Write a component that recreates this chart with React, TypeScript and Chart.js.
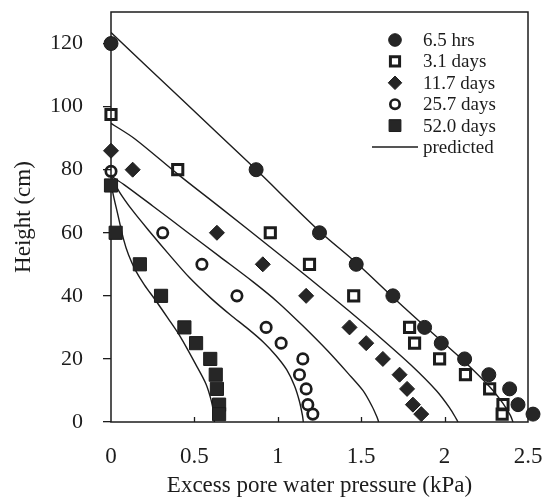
import { useEffect, useRef } from 'react';
import { Chart, registerables } from 'chart.js';
import { drawPoint } from 'chart.js/helpers';

Chart.register(...registerables);

// ---------- data ----------
const seriesLabels = ['6.5 hrs', '3.1 days', '11.7 days', '25.7 days', '52.0 days'];
const predictedLabel = 'predicted';
const xTickValues = [0, 0.5, 1, 1.5, 2, 2.5];
const yTickValues = [0, 20, 40, 60, 80, 100, 120];

// measured: [excess pore water pressure (kPa), height (cm)]
const obs6_5hrs: [number, number][] = [
  [0, 120], [0.87, 80], [1.25, 60], [1.47, 50], [1.69, 40], [1.88, 30],
  [1.98, 25], [2.12, 20], [2.265, 15], [2.39, 10.5], [2.44, 5.5], [2.53, 2.5],
];
const obs3_1days: [number, number][] = [
  [0, 97.5], [0.4, 80], [0.955, 60], [1.19, 50], [1.455, 40], [1.79, 30],
  [1.82, 25], [1.97, 20], [2.125, 15], [2.27, 10.5], [2.35, 5.5], [2.345, 2.5],
];
const obs11_7days: [number, number][] = [
  [0, 86], [0.13, 80], [0.635, 60], [0.91, 50], [1.17, 40], [1.43, 30],
  [1.53, 25], [1.63, 20], [1.73, 15], [1.775, 10.5], [1.81, 5.5], [1.86, 2.5],
];
const obs25_7days: [number, number][] = [
  [0, 79.5], [0.31, 60], [0.545, 50], [0.755, 40], [0.93, 30], [1.02, 25],
  [1.15, 20], [1.13, 15], [1.17, 10.5], [1.18, 5.5], [1.21, 2.5],
];
const obs52_0days: [number, number][] = [
  [0, 75], [0.028, 60], [0.173, 50], [0.3, 40], [0.44, 30], [0.51, 25],
  [0.595, 20], [0.628, 15], [0.635, 10.5], [0.648, 5.5], [0.648, 2.5],
];

// predicted isochrones
const pred6_5hrs: [number, number][] = [
  [0, 123.5], [0.43, 102], [0.86, 80.5], [1.25, 60.5], [1.47, 50.5], [1.71, 38.6],
  [1.91, 29], [2.11, 19.6], [2.27, 11.2], [2.35, 5.9], [2.395, 2], [2.41, 0],
];
const pred3_1days: [number, number][] = [
  [0, 94.7], [0.14, 89.9], [0.4, 78.6], [0.66, 67.8], [0.98, 54.4], [1.19, 45.5],
  [1.42, 35.5], [1.62, 26.5], [1.8, 18], [1.95, 10], [2.03, 4.5], [2.07, 1], [2.08, 0],
];
const pred11_7days: [number, number][] = [
  [0, 78], [0.08, 75.2], [0.25, 68.5], [0.45, 60.5], [0.65, 52.5], [0.85, 44.5], [1.0, 38],
  [1.15, 30.5], [1.3, 22.5], [1.42, 15.5], [1.51, 10], [1.565, 5], [1.595, 1.5], [1.605, 0],
];
const pred25_7days: [number, number][] = [
  [0, 78], [0.05, 73], [0.13, 67], [0.23, 60.5], [0.35, 53], [0.47, 45.8], [0.6, 39.2],
  [0.715, 34], [0.82, 29.6], [0.914, 25.3], [0.99, 21], [1.054, 16.5],
  [1.1, 11.5], [1.13, 6.5], [1.148, 2], [1.153, 0],
];
const pred52_0days: [number, number][] = [
  [0, 77], [0.01, 73], [0.04, 66], [0.075, 58], [0.105, 53], [0.147, 48.1], [0.2, 43.5],
  [0.267, 38.6], [0.34, 33], [0.416, 27], [0.516, 17.5], [0.57, 12], [0.6, 7], [0.615, 3], [0.62, 0],
];

const observed = [obs6_5hrs, obs3_1days, obs11_7days, obs25_7days, obs52_0days];
const predicted = [pred6_5hrs, pred3_1days, pred11_7days, pred25_7days, pred52_0days];

// ---------- styles ----------
const FONT = "'Liberation Serif', 'Times New Roman', Times, serif";
const INK = '#1c1c1c';
const CLEAR = 'rgba(0,0,0,0)';

const markerStyles = [
  { pointStyle: 'circle', radius: 7, fill: '#262626', borderWidth: 1 },
  { pointStyle: 'rect', radius: 7.2, fill: CLEAR, borderWidth: 3 },
  { pointStyle: 'rectRot', radius: 7.5, fill: '#262626', borderWidth: 1 },
  { pointStyle: 'circle', radius: 5.2, fill: CLEAR, borderWidth: 2.7 },
  { pointStyle: 'rect', radius: 9.3, fill: '#262626', borderWidth: 1 },
];

const toXY = (arr: [number, number][]) => arr.map(([x, y]) => ({ x, y }));

const framePlugin = {
  id: 'frame',
  beforeDatasetsDraw(chart: any) {
    const { ctx, chartArea } = chart;
    const xs = chart.scales.x;
    ctx.save();
    ctx.strokeStyle = INK;
    ctx.lineWidth = 1.5;
    ctx.strokeRect(chartArea.left, chartArea.top, chartArea.right - chartArea.left, chartArea.bottom - chartArea.top);
    ctx.lineWidth = 1.3;
    xTickValues.slice(1, -1).forEach((v) => {
      const px = Math.round(xs.getPixelForValue(v)) + 0.5;
      ctx.beginPath();
      ctx.moveTo(px, chartArea.bottom);
      ctx.lineTo(px, chartArea.bottom - 5);
      ctx.stroke();
    });
    ctx.restore();
  },
};

const legendPlugin = {
  id: 'sideLegend',
  afterDraw(chart: any) {
    const { ctx, chartArea } = chart;
    const markerX = chartArea.right - 133;
    const textX = chartArea.right - 105;
    const top = chartArea.top + 28;
    const step = 21.4;
    ctx.save();
    ctx.font = `19px ${FONT}`;
    ctx.textBaseline = 'middle';
    ctx.textAlign = 'left';
    seriesLabels.forEach((label, i) => {
      const y = top + i * step;
      const st = markerStyles[i];
      ctx.fillStyle = st.fill;
      ctx.strokeStyle = INK;
      ctx.lineWidth = st.borderWidth;
      drawPoint(ctx, { pointStyle: st.pointStyle as any, radius: st.radius * 0.9, borderWidth: st.borderWidth, rotation: 0 }, markerX, y);
      ctx.fillStyle = INK;
      ctx.fillText(label, textX, y + 1);
    });
    const y = top + seriesLabels.length * step;
    ctx.strokeStyle = INK;
    ctx.lineWidth = 1.4;
    ctx.beginPath();
    ctx.moveTo(markerX - 23, y);
    ctx.lineTo(textX - 5, y);
    ctx.stroke();
    ctx.fillStyle = INK;
    ctx.fillText(predictedLabel, textX, y + 1);
    ctx.restore();
  },
};

export default function App() {
  const ref = useRef<HTMLCanvasElement>(null);
  useEffect(() => {
    const canvas = ref.current;
    if (!canvas) return;
    const datasets: any[] = [];
    observed.forEach((obs, i) => {
      const st = markerStyles[i];
      datasets.push({
        label: seriesLabels[i],
        data: toXY(obs),
        pointStyle: st.pointStyle,
        pointRadius: st.radius,
        pointBackgroundColor: st.fill,
        pointBorderColor: INK,
        pointBorderWidth: st.borderWidth,
        showLine: false,
        clip: false,
        order: 0,
      });
    });
    predicted.forEach((pred, i) => {
      datasets.push({
        label: `${predictedLabel} ${seriesLabels[i]}`,
        data: toXY(pred),
        showLine: true,
        borderColor: INK,
        borderWidth: 1.4,
        pointRadius: 0,
        tension: 0.3,
        fill: false,
        order: 1,
      });
    });
    const chart = new Chart(canvas, {
      type: 'scatter',
      data: { datasets },
      options: {
        responsive: false,
        animation: false,
        devicePixelRatio: 1,
        events: [],
        layout: { padding: { top: 12, right: 14, left: 0, bottom: 0 } },
        plugins: { legend: { display: false }, tooltip: { enabled: false } },
        scales: {
          x: {
            type: 'linear',
            min: 0,
            max: 2.5,
            afterBuildTicks: (s: any) => { s.ticks = xTickValues.map((v) => ({ value: v })); },
            ticks: {
              callback: (v: any) => String(v),
              font: { family: FONT, size: 23 },
              color: INK,
              padding: 21,
              maxRotation: 0,
              autoSkip: false,
            },
            grid: { display: false, drawTicks: false },
            border: { display: false },
            title: {
              display: true,
              text: 'Excess pore water pressure (kPa)',
              font: { family: FONT, size: 23 },
              color: INK,
              padding: { top: 0, bottom: -2 },
            },
            afterFit: (s: any) => {
              s.height = 76;
              s.paddingLeft = 0;
              s.paddingRight = 0;
            },
          },
          y: {
            type: 'linear',
            min: 0,
            max: 130,
            afterBuildTicks: (s: any) => { s.ticks = yTickValues.map((v) => ({ value: v })); },
            ticks: {
              callback: (v: any) => String(v),
              font: { family: FONT, size: 22 },
              color: INK,
              padding: 20,
              autoSkip: false,
            },
            grid: {
              display: true,
              drawOnChartArea: false,
              drawTicks: true,
              tickLength: 8,
              color: INK,
              lineWidth: 1.3,
            },
            border: { display: false },
            title: {
              display: true,
              text: 'Height (cm)',
              font: { family: FONT, size: 23 },
              color: INK,
              padding: { top: 10, bottom: 0 },
            },
            afterFit: (s: any) => {
              s.width = 111;
              s.paddingTop = 0;
              s.paddingBottom = 0;
            },
          },
        },
      },
      plugins: [framePlugin, legendPlugin],
    } as any);
    return () => chart.destroy();
  }, []);
  return (
    <div style={{ position: 'fixed', left: 0, top: 0, width: 542, height: 498, background: '#fff' }}>
      <canvas ref={ref} width={542} height={498} style={{ width: 542, height: 498, display: 'block' }} />
    </div>
  );
}
